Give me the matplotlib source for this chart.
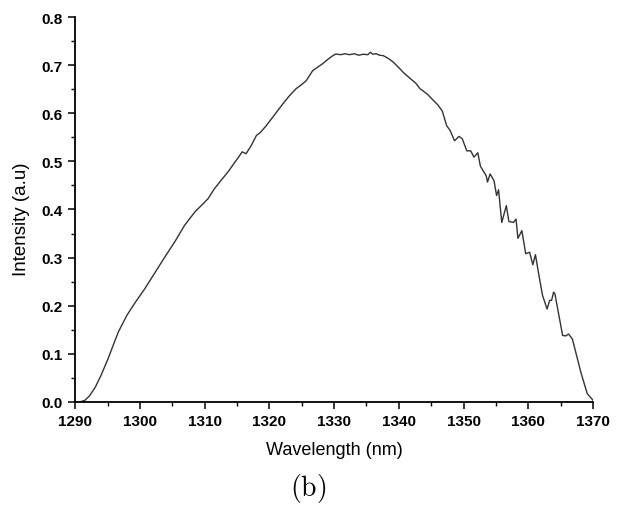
import numpy as np
import matplotlib.pyplot as plt
from matplotlib.ticker import MultipleLocator, FormatStrFormatter

plt.rcParams['font.family'] = ['Liberation Sans', 'DejaVu Sans']
plt.rcParams['mathtext.fontset'] = 'cm'

# spectrum
wavelength = [
    1290.0, 1290.8, 1291.5, 1292.2, 1293.1, 1294.0, 1295.1, 1296.0, 1296.7, 1298.0,
    1299.2, 1300.8, 1302.3, 1303.8, 1305.4, 1306.9, 1308.5, 1310.5, 1311.5, 1312.5,
    1313.6, 1314.6, 1315.4, 1315.8, 1316.4, 1317.2, 1318.0, 1318.6, 1319.5, 1320.8,
    1322.1, 1323.0, 1324.1, 1325.0, 1325.7, 1326.7, 1328.2, 1329.0, 1329.8, 1330.3,
    1331.0, 1331.7, 1332.4, 1333.1, 1333.8, 1334.5, 1335.2, 1335.6, 1336.0, 1336.5,
    1337.0, 1337.6, 1338.4, 1339.2, 1340.0, 1340.7, 1341.8, 1342.6, 1343.3, 1344.4,
    1345.4, 1346.0, 1346.7, 1347.4, 1347.9, 1348.6, 1349.3, 1349.8, 1350.5, 1351.1,
    1351.6, 1352.2, 1352.6, 1353.5, 1353.7, 1354.1, 1354.7, 1355.1, 1355.4, 1355.9,
    1356.6, 1357.0, 1357.7, 1358.1, 1358.4, 1359.0, 1359.6, 1360.2, 1360.7, 1361.1,
    1361.6, 1362.2, 1362.9, 1363.3, 1363.6, 1363.9, 1364.1, 1365.3, 1365.8, 1366.2,
    1366.8, 1368.1, 1369.1, 1370.0,
]
intensity = [
    0.000, 0.000, 0.003, 0.012, 0.030, 0.055, 0.090, 0.122, 0.146, 0.180,
    0.205, 0.236, 0.268, 0.300, 0.333, 0.367, 0.395, 0.422, 0.443, 0.460,
    0.478, 0.497, 0.512, 0.520, 0.516, 0.533, 0.554, 0.560, 0.574, 0.597,
    0.620, 0.635, 0.651, 0.660, 0.668, 0.689, 0.703, 0.712, 0.720, 0.7235,
    0.722, 0.724, 0.722, 0.724, 0.721, 0.723, 0.722, 0.727, 0.723, 0.724,
    0.721, 0.720, 0.714, 0.706, 0.695, 0.685, 0.672, 0.663, 0.651, 0.640,
    0.626, 0.618, 0.605, 0.574, 0.565, 0.543, 0.552, 0.547, 0.522, 0.522,
    0.509, 0.518, 0.490, 0.470, 0.457, 0.474, 0.460, 0.429, 0.441, 0.373,
    0.408, 0.375, 0.373, 0.380, 0.340, 0.356, 0.308, 0.311, 0.285, 0.306,
    0.266, 0.221, 0.193, 0.211, 0.211, 0.228, 0.225, 0.138, 0.137, 0.141,
    0.131, 0.062, 0.017, 0.003,
]

fig = plt.figure(figsize=(6.21, 5.06), dpi=100)
ax = fig.add_axes([0.121, 0.204, 0.834, 0.760])

ax.plot(wavelength, intensity, color='#333333', linewidth=1.0)

ax.set_xlim(1290, 1370)
ax.set_ylim(0.0, 0.8)
ax.xaxis.set_major_locator(MultipleLocator(10))
ax.xaxis.set_minor_locator(MultipleLocator(5))
ax.yaxis.set_major_locator(MultipleLocator(0.1))
ax.yaxis.set_minor_locator(MultipleLocator(0.05))
ax.yaxis.set_major_formatter(FormatStrFormatter('%.1f'))

for side in ['top', 'right']:
    ax.spines[side].set_visible(False)
for side in ['left', 'bottom']:
    ax.spines[side].set_linewidth(1.3)

ax.tick_params(which='major', direction='out', length=5, width=1.1, labelsize=11, pad=4)
ax.tick_params(which='minor', direction='out', length=3, width=1.0)
for lab in ax.get_xticklabels() + ax.get_yticklabels():
    lab.set_fontweight('bold')

ax.set_xlabel('Wavelength (nm)', fontsize=13, labelpad=9)
ax.set_ylabel('Intensity (a.u)', fontsize=13.5)
ax.yaxis.set_label_coords(-0.088, 0.476)

fig.text(0.497, 0.035, r'$\mathrm{(b)}$', fontsize=20, ha='center', va='center')

fig.savefig('out.png', dpi=100)
